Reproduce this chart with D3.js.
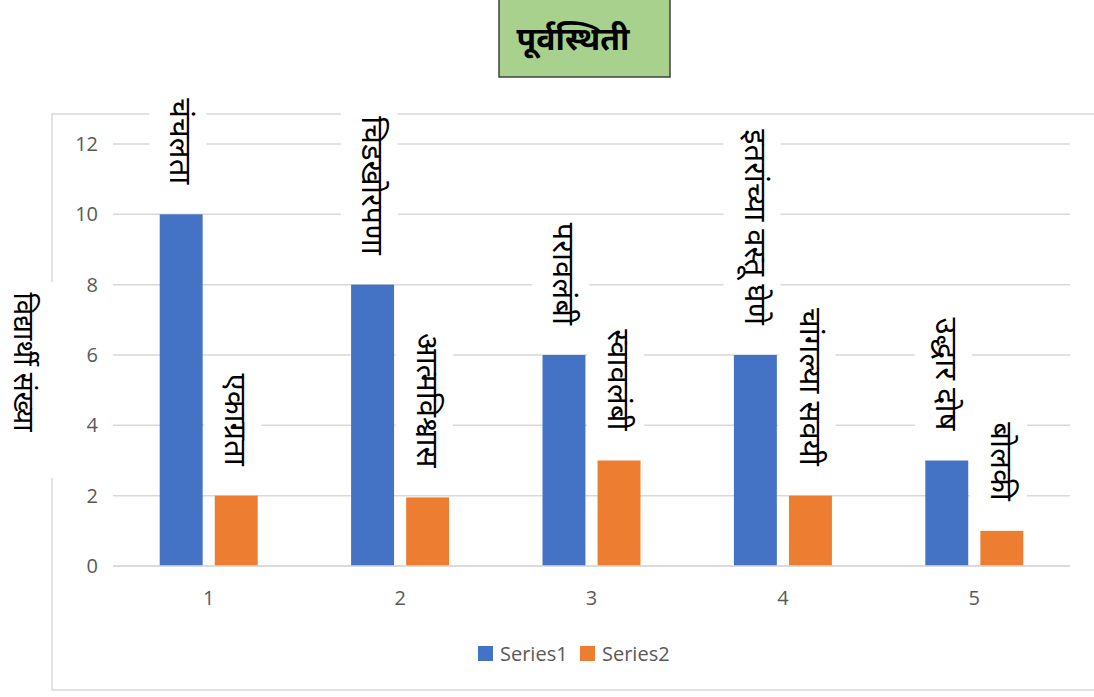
<!DOCTYPE html>
<html>
<head>
<meta charset="utf-8">
<script src="https://cdn.jsdelivr.net/npm/d3@7"></script>
<style>
  body { margin: 0; background: #fff; }
  text { font-family: "Open Sans", "Noto Sans", sans-serif; }
  .deva { font-family: "Noto Sans Devanagari", "Lohit Devanagari", "Mangal", "Nirmala UI", "Noto Sans", sans-serif; }
</style>
</head>
<body>
<div class="data-board"></div>
<script>
var width = 1094;
var height = 697;

// data
var categories = ['1', '2', '3', '4', '5'];
var seriesNames = ['Series1', 'Series2'];
var series1 = [10, 8, 6, 6, 3];
var series2 = [2, 1.95, 3, 2, 1];
var labels1 = ['चंचलता', 'चिडखोरपणा', 'परावलंबी', 'इतरांच्या वस्तू घेणे', 'उद्धार दोष'];
var labels2 = ['एकाग्रता', 'आत्मविश्वास', 'स्वावलंबी', 'चांगल्या सवयी', 'बोलकी'];
var yTicks = [0, 2, 4, 6, 8, 10, 12];
var colors = ['#4472c4', '#ed7d31'];

var svg = d3.select('.data-board')
            .append('svg')
            .attr('width', width)
            .attr('height', height);

// outer chart border
svg.append('rect')
   .attr('x', 52).attr('y', 114)
   .attr('width', 1100).attr('height', 576)
   .attr('fill', 'none')
   .attr('stroke', '#d9d9d9')
   .attr('stroke-width', 1.5);

var x0 = d3.scaleBand()
           .domain(categories)
           .range([113, 1070])
           .paddingInner(0.488)
           .paddingOuter(0.244);

var x1 = d3.scaleBand()
           .domain(seriesNames)
           .range([0, x0.bandwidth()])
           .paddingInner(0.22);

var y = d3.scaleLinear()
          .domain([0, 12])
          .range([566, 144]);

// gridlines
svg.append('g')
   .selectAll('line')
   .data(yTicks)
   .enter()
   .append('line')
   .attr('x1', 113).attr('x2', 1070)
   .attr('y1', d => y(d)).attr('y2', d => y(d))
   .attr('stroke', '#d9d9d9')
   .attr('stroke-width', 1.5);

// y tick labels
svg.append('g')
   .selectAll('text')
   .data(yTicks)
   .enter()
   .append('text')
   .attr('x', 98)
   .attr('y', d => y(d))
   .attr('dy', '0.35em')
   .attr('text-anchor', 'end')
   .attr('font-size', 20)
   .attr('fill', '#595959')
   .text(d => d);

// x category labels
svg.append('g')
   .selectAll('text')
   .data(categories)
   .enter()
   .append('text')
   .attr('x', d => x0(d) + x0.bandwidth() / 2)
   .attr('y', 598)
   .attr('dy', '0.35em')
   .attr('text-anchor', 'middle')
   .attr('font-size', 20)
   .attr('fill', '#595959')
   .text(d => d);

var rows = categories.map((c, i) => ({cat: c, vals: [series1[i], series2[i]], labs: [labels1[i], labels2[i]]}));

var group = svg.append('g')
   .selectAll('g')
   .data(rows)
   .enter()
   .append('g')
   .attr('transform', d => `translate(${x0(d.cat)},0)`);

//bars
group.selectAll('rect')
     .data(d => d.vals.map((v, j) => ({s: seriesNames[j], v: v, j: j})))
     .enter()
     .append('rect')
     .attr('x', d => x1(d.s))
     .attr('y', d => y(d.v))
     .attr('width', x1.bandwidth())
     .attr('height', d => y(0) - y(d.v))
     .attr('fill', d => colors[d.j]);

// rotated data labels above each bar
var labelG = group.selectAll('g.lab')
     .data(d => d.vals.map((v, j) => ({s: seriesNames[j], v: v, t: d.labs[j]})))
     .enter()
     .append('g')
     .attr('class', 'lab')
     .attr('transform', d => `translate(${x1(d.s) + x1.bandwidth() / 2},${y(d.v) - 30}) rotate(90)`);

labelG.append('text')
      .attr('class', 'deva')
      .attr('x', 0)
      .attr('y', 0)
      .attr('dy', '0.35em')
      .attr('text-anchor', 'end')
      .attr('font-size', 31)
      .attr('fill', '#000')
      .text(d => d.t);

// white box behind each label, sized from its text
labelG.each(function() {
  var g = d3.select(this);
  var bb = g.select('text').node().getBBox();
  g.insert('rect', 'text')
   .attr('x', bb.x - 4)
   .attr('y', bb.y - 8)
   .attr('width', bb.width + 8)
   .attr('height', bb.height + 16)
   .attr('fill', '#fff');
});

// x axis line
svg.append('line')
   .attr('x1', 113).attr('x2', 1070)
   .attr('y1', y(0)).attr('y2', y(0))
   .attr('stroke', '#d9d9d9')
   .attr('stroke-width', 1.5);

// y axis title
svg.append('rect')
   .attr('x', 4).attr('y', 282)
   .attr('width', 60).attr('height', 196)
   .attr('fill', '#fff');
svg.append('text')
   .attr('class', 'deva')
   .attr('transform', 'translate(24,362) rotate(90)')
   .attr('text-anchor', 'middle')
   .attr('dy', '0.35em')
   .attr('font-size', 28)
   .attr('fill', '#000')
   .text('विद्यार्थी संख्या');

// title box
svg.append('rect')
   .attr('x', 499).attr('y', -2)
   .attr('width', 171).attr('height', 79)
   .attr('fill', '#a9d18e')
   .attr('stroke', '#404040')
   .attr('stroke-width', 1.5);
svg.append('text')
   .attr('class', 'deva')
   .attr('x', 573).attr('y', 39)
   .attr('dy', '0.35em')
   .attr('text-anchor', 'middle')
   .attr('font-size', 32)
   .attr('font-weight', 'bold')
   .attr('fill', '#000')
   .text('पूर्वस्थिती');

// legend
var legend = svg.append('g')
   .selectAll('g')
   .data(seriesNames)
   .enter()
   .append('g')
   .attr('transform', (d, i) => `translate(${478 + i * 102},646)`);
legend.append('rect')
      .attr('width', 15).attr('height', 15)
      .attr('fill', (d, i) => colors[i]);
legend.append('text')
      .attr('x', 22).attr('y', 8)
      .attr('dy', '0.35em')
      .attr('font-size', 20)
      .attr('fill', '#595959')
      .text(d => d);
</script>
</body>
</html>
